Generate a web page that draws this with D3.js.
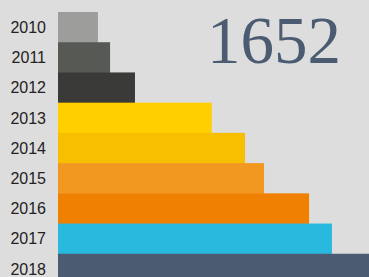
<!DOCTYPE html>
<html>
<head>
<meta charset="utf-8">
<script src="https://d3js.org/d3.v7.min.js"></script>
<style>
  html, body { margin: 0; padding: 0; background: #dddddd; overflow: hidden; }
  svg { display: block; }
</style>
</head>
<body>
<svg id="chart"></svg>
<script>
// years and running totals
var years = ["2010", "2011", "2012", "2013", "2014", "2015", "2016", "2017", "2018"];
var totals = [194, 253, 374, 747, 909, 1001, 1220, 1331, 1652];
var barColors = ["#9d9d9b", "#575955", "#3a3a38", "#ffcf00", "#f7bf00", "#f2971f", "#f08000", "#2ab9de", "#4a5b72"];
var headline = "1652";

var width = 369, height = 277;
var svg = d3.select("#chart").attr("width", width).attr("height", height);

svg.append("rect")
  .attr("width", width)
  .attr("height", height)
  .attr("fill", "#dddddd");

var x = d3.scaleLinear().domain([0, d3.max(totals)]).range([58, 398]);
var y = d3.scaleBand().domain(years).range([12, 284]).padding(0);

// bars
svg.selectAll("rect.bar")
  .data(years)
  .enter().append("rect")
  .attr("class", "bar")
  .attr("x", x(0))
  .attr("y", function (d) { return y(d); })
  .attr("width", function (d, i) { return x(totals[i]) - x(0); })
  .attr("height", y.bandwidth() + 0.5)
  .attr("fill", function (d, i) { return barColors[i]; });

// year labels
var axis = d3.axisLeft(y).tickSize(0).tickPadding(0);
var g = svg.append("g")
  .attr("transform", "translate(46,0)")
  .call(axis);
g.select(".domain").remove();
g.selectAll("text")
  .attr("fill", "#222222")
  .attr("dy", "0.36em")
  .style("font-family", "'Liberation Sans', Arial, sans-serif")
  .style("font-size", "16px");

// big number
svg.append("text")
  .attr("x", 341)
  .attr("y", 62.5)
  .attr("text-anchor", "end")
  .attr("fill", "#4a5b72")
  .style("font-family", "'Liberation Serif', 'Times New Roman', serif")
  .style("font-size", "67px")
  .text(headline);
</script>
</body>
</html>
